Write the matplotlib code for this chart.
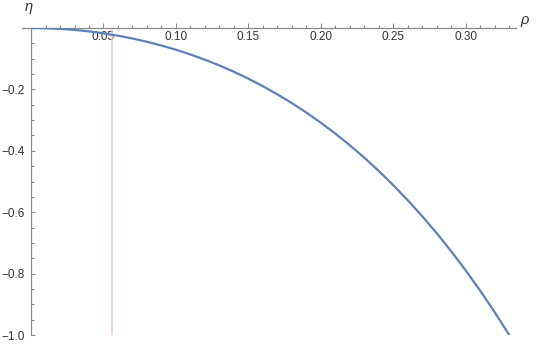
import numpy as np
import matplotlib
matplotlib.use("Agg")
import matplotlib.pyplot as plt
from matplotlib.ticker import MultipleLocator, FixedLocator

# curve
rho = [0.00, 0.01, 0.02, 0.03, 0.04, 0.05, 0.06, 0.07, 0.08, 0.09,
       0.10, 0.11, 0.12, 0.13, 0.14, 0.15, 0.16, 0.17, 0.18, 0.19,
       0.20, 0.21, 0.22, 0.23, 0.24, 0.25, 0.26, 0.27, 0.28, 0.29,
       0.30, 0.31, 0.32, 0.33]
eta = [0.0, -0.0007, -0.0028, -0.0062, -0.011, -0.0173, -0.025, -0.0341, -0.0448, -0.057,
       -0.0707, -0.0861, -0.1032, -0.122, -0.1426, -0.1651, -0.1896, -0.2161, -0.2446, -0.2754,
       -0.3085, -0.344, -0.3819, -0.4225, -0.4658, -0.512, -0.5611, -0.6134, -0.6687, -0.7276,
       -0.7899, -0.8559, -0.9259, -1.0]

rho_mark = 0.0558  # red vertical marker
x_major = [0.05, 0.10, 0.15, 0.20, 0.25, 0.30]
x_labels = ["0.05", "0.10", "0.15", "0.20", "0.25", "0.30"]
y_major = [-1.0, -0.8, -0.6, -0.4, -0.2]
y_labels = ["\u22121.0", "\u22120.8", "\u22120.6", "\u22120.4", "\u22120.2"]

plt.rcParams['font.family'] = ['Liberation Sans', 'DejaVu Sans']

fig = plt.figure(figsize=(5.42, 3.44), dpi=100)
ax = fig.add_axes([0.0399, 0.02616, 0.913, 0.8924])

ax.plot([rho_mark, rho_mark], [0, -1], color='#F9C4C4', lw=1.1, zorder=2)
ax.plot(rho, eta, color='#5E81B5', lw=1.6, zorder=3,
        solid_capstyle='butt', solid_joinstyle='round')

ax.set_xlim(-0.0065, 0.335)
ax.set_ylim(-1.0, 0.0)

for s in ['bottom', 'right']:
    ax.spines[s].set_visible(False)
ax.spines['left'].set_position(('data', 0))
axis_col = '#8a8a8a'
ax.spines['left'].set_color(axis_col)
ax.spines['top'].set_color(axis_col)
ax.spines['left'].set_linewidth(0.9)
ax.spines['top'].set_linewidth(0.9)

ax.xaxis.set_major_locator(FixedLocator(x_major))
ax.set_xticklabels(x_labels)
ax.xaxis.set_minor_locator(FixedLocator([i / 100 for i in range(1, 34)]))
ax.yaxis.set_major_locator(FixedLocator(y_major))
ax.set_yticklabels(y_labels)
ax.yaxis.set_minor_locator(MultipleLocator(0.05))

ax.tick_params(axis='x', which='both', top=True, bottom=False, labeltop=True,
               labelbottom=False, direction='out', color=axis_col, width=0.8)
ax.tick_params(axis='x', which='major', length=3.4, pad=-14.0,
               labelsize=8.5, labelcolor='#333333')
ax.tick_params(axis='x', which='minor', length=2.0)
ax.tick_params(axis='y', which='both', left=True, right=False, direction='in',
               color=axis_col, width=0.8)
ax.tick_params(axis='y', which='major', length=3.2, pad=4.3,
               labelsize=8.5, labelcolor='#333333')
ax.tick_params(axis='y', which='minor', length=2.0)

ax.text(0.3375, 0.004, "\u03c1", fontsize=10.5, style='italic', color='#333333',
        ha='left', va='bottom', clip_on=False)
ax.text(-0.0015, 0.045, "\u03b7", fontsize=10.5, style='italic', color='#333333',
        ha='center', va='bottom', clip_on=False)

fig.savefig('out.png', dpi=100)
